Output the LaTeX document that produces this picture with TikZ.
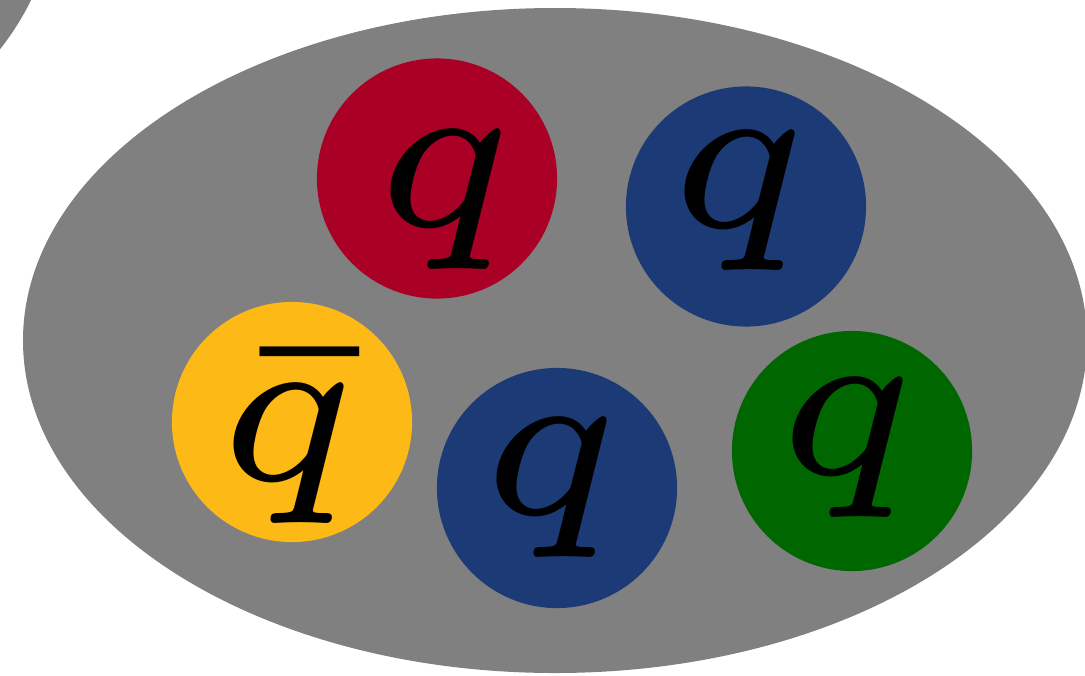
\documentclass[tikz,border=0pt]{standalone}
\usepackage{graphicx}
\usepackage{tikz}
\usetikzlibrary{positioning}
\definecolor{qgray}{HTML}{808080}
\definecolor{qred}{HTML}{AB0026}
\definecolor{qblue}{HTML}{1C3A75}
\definecolor{qyellow}{HTML}{FDBA16}
\definecolor{qgreen}{HTML}{006600}
\newcommand{\bigflav}[1]{\scalebox{12.6}{\fontsize{5}{6}\selectfont$#1$}}

\begin{document}
\begin{tikzpicture}[x=0.01cm, y=-0.01cm,
  quark/.style={circle, inner sep=0pt, minimum size=2.4cm},
  flav/.style={anchor=base, inner sep=0pt}
]
\useasboundingbox (0,0) rectangle (1085,675);
\clip (0,0) rectangle (1085,675);
\fill[qgray] (-478,-97) ellipse [x radius=532, y radius=333];
\fill[qgray] (555,340.5) ellipse [x radius=532, y radius=332.5];

\node[quark, fill=qred] (red) at (437,178.5) {};
\node[quark, fill=qblue] (blueA) at (746,206.5) {};
\node[quark, fill=qyellow] (yellow) at (292,422) {};
\node[quark, fill=qblue] (blueB) at (557,488) {};
\node[quark, fill=qgreen] (green) at (852,451) {};

\node[flav] (qred) at (444,226) {\bigflav{q}};
\node[flav] (qblueA) at (738,227) {\bigflav{q}};
\node[flav] (qbar) at (287,480) {\bigflav{\bar{q}}};
\node[flav] (qblueB) at (550,514) {\bigflav{q}};
\node[flav] (qgreen) at (846,474) {\bigflav{q}};
\end{tikzpicture}
\end{document}
